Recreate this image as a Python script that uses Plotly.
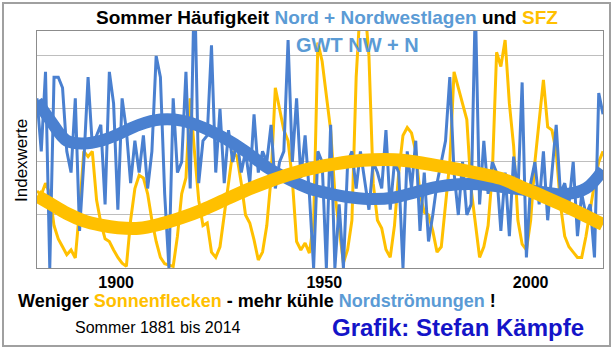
import plotly.graph_objects as go

# ---------------- data ----------------
years = list(range(1881, 2015))

# Summer frequency of GWT NW + N (index values)
nw_n = [
    32, 22, 37, 0, 36, 36, 34, 22, 18, 32,        # 1881-1890
    7, 20, 36, 23, 25, 27, 12, 37, 31, 11,        # 1891-1900
    32, 26, 16, 24, 18, 25, 15, 22, 40, 36,       # 1901-1910
    14, 0, 32, 18, 20, 37, 15, 55, 16, 24,        # 1911-1920
    25, 42, 18, 30, 16, 26, 20, 24, 18, 22,       # 1921-1930
    16, 29, 18, 22, 20, 27, 15, 20, 22, 43,       # 1931-1940
    20, 32, 17, 25, 14, 0, 22, 20, 0, 27,         # 1941-1950
    0, 12, 0, 20, 22, 15, 22, 16, 11, 20,         # 1951-1960
    18, 15, 26, 11, 20, 18, 0, 22, 15, 24,        # 1961-1970
    7, 18, 5, 10, 16, 20, 24, 36, 18, 10,         # 1971-1980
    20, 10, 12, 50, 12, 24, 14, 20, 18, 7,        # 1981-1990
    18, 6, 21, 14, 35, 2, 16, 20, 12, 22,         # 1991-2000
    9, 18, 27, 14, 16, 12, 20, 6, 14, 10,         # 2001-2010
    12, 2, 33, 29                                 # 2011-2014
]

# Summer sunspot number (SFZ), same index scale
sfz = [
    14.5, 13.8, 16, 14, 8, 5.5, 4, 2.5, 3.4, 1.9,         # 1881-1890
    11, 22, 21, 22, 12.8, 8.5, 5.5, 5, 3.4, 2,            # 1891-1900
    0.9, 0.3, 9, 15, 17.5, 17, 14, 9, 5, 2,               # 1901-1910
    0.8, 0.5, 0.3, 6, 14, 17, 32, 22, 12.8, 8,            # 1911-1920
    8.5, 3, 2, 4, 10, 15, 22, 21, 16, 10,                 # 1921-1930
    8.5, 5.3, 1.5, 3, 8, 17, 34, 30, 26, 24,              # 1931-1940
    16.6, 5, 3.4, 4.7, 2.8, 8.5, 42.5, 39, 32, 26,        # 1941-1950
    14, 7.7, 1, 3.5, 9, 36, 50, 50, 40, 16,               # 1951-1960
    9, 7.5, 3.5, 2, 8, 18, 25, 26.5, 25.5, 22,            # 1961-1970
    14, 10.5, 10, 7, 3, 4, 12, 20, 37, 34,                # 1971-1980
    31, 28, 15, 8, 2, 4, 8, 18, 40.7, 38,                 # 1981-1990
    43, 31, 23, 9, 4.5, 3.4, 9, 20, 28, 35.5,             # 1991-2000
    26.6, 26, 22, 12, 6, 4, 3, 2, 2, 6,                   # 2001-2010
    11, 16, 20, 22                                        # 2011-2014
]

# Trend curves
trend_years = [1881, 1884, 1888, 1892, 1896, 1900, 1905, 1910, 1915, 1920,
               1925, 1930, 1935, 1940, 1945, 1950, 1955, 1960, 1965, 1970,
               1975, 1980, 1985, 1990, 1995, 2000, 2005, 2010, 2014]
nw_n_trend = [31.5, 28, 24, 23.5, 24, 25.2, 27, 28, 27.8, 26.5,
              24.5, 22, 19, 16.8, 15, 14, 13.3, 13, 13.3, 14.3,
              15.3, 15.8, 15.8, 15.3, 14.8, 14.3, 13.9, 15, 18.5]
sfz_trend = [13.6, 12.2, 10.3, 8.9, 8.1, 7.6, 7.5, 8.3, 9.5, 11,
             12.8, 14.6, 16.2, 17.6, 18.7, 19.5, 20.1, 20.4, 20.4, 20.0,
             19.3, 18.6, 17.8, 16.9, 15.2, 13.5, 11.7, 9.8, 8.2]

tick_labels = ["1900", "1950", "2000"]
tick_positions = [1899.6, 1948.5, 1997.0]

# ---------------- styling ----------------
BLUE = "#4A80D0"
BLUE_TXT = "#5B9BD5"
GOLD = "#FFC000"
FONT = "Arial, Liberation Sans, sans-serif"

W, H = 614, 350
ML, MR, MT, MB = 37, 11, 31, 82
PW, PH = W - ML - MR, H - MT - MB


def px(x):
    return (x - ML) / PW


def py(y):
    return (H - MB - y) / PH


fig = go.Figure()
fig.add_trace(go.Scatter(x=years, y=sfz, mode="lines",
                         line=dict(color=GOLD, width=3), hoverinfo="skip"))
fig.add_trace(go.Scatter(x=years, y=nw_n, mode="lines",
                         line=dict(color=BLUE, width=3), hoverinfo="skip"))
fig.add_trace(go.Scatter(x=trend_years, y=nw_n_trend, mode="lines",
                         line=dict(color=BLUE, width=12, shape="spline"),
                         hoverinfo="skip"))
fig.add_trace(go.Scatter(x=trend_years, y=sfz_trend, mode="lines",
                         line=dict(color=GOLD, width=13, shape="spline"),
                         hoverinfo="skip"))


def note(text, x, y, size, color="black", anchor="center", angle=0):
    return dict(text=text, xref="paper", yref="paper", x=px(x), y=py(y),
                xanchor=anchor, yanchor="middle", showarrow=False,
                textangle=angle,
                font=dict(size=size, color=color, family=FONT))


ann = [
    note(("<b>Sommer Häufigkeit <span style='color:%s'>Nord + Nordwestlagen</span>"
          " und <span style='color:%s'>SFZ</span></b>") % (BLUE_TXT, GOLD),
         327, 17, 19),
    note("<b>GWT NW + N</b>", 357, 45, 20, BLUE_TXT),
    note("Indexwerte", 21, 161, 17, angle=-90),
    note(("<b>Weniger <span style='color:%s'>Sonnenflecken</span> - mehr kühle "
          "<span style='color:%s'>Nordströmungen</span> !</b>") % (GOLD, BLUE_TXT),
         16, 301, 18, anchor="left"),
    note("Sommer 1881 bis 2014", 73, 327, 16, anchor="left"),
    note("<b>Grafik: Stefan Kämpfe</b>", 330, 327, 24, "#1414C8", anchor="left"),
]

fig.update_layout(
    width=W, height=H,
    margin=dict(l=ML, r=MR, t=MT, b=MB),
    paper_bgcolor="white", plot_bgcolor="white",
    showlegend=False,
    annotations=ann,
    shapes=[dict(type="rect", xref="paper", yref="paper",
                 x0=px(3), x1=px(610), y0=py(346), y1=py(3),
                 line=dict(color="#A0A0A0", width=2), layer="below")],
    xaxis=dict(range=[1881, 2014], showgrid=False, zeroline=False,
               tickmode="array", tickvals=tick_positions,
               ticktext=["<b>%s</b>" % t for t in tick_labels],
               tickfont=dict(size=16, color="black", family=FONT),
               ticks="", showline=True, mirror=True,
               linecolor="#8C8C8C", linewidth=1),
    yaxis=dict(range=[0, 44.7], dtick=10, tick0=0, showgrid=True,
               gridcolor="#BEBEBE", gridwidth=1, zeroline=False,
               showticklabels=False, ticks="", showline=True, mirror=True,
               linecolor="#8C8C8C", linewidth=1),
)

fig.write_html("out.html")
